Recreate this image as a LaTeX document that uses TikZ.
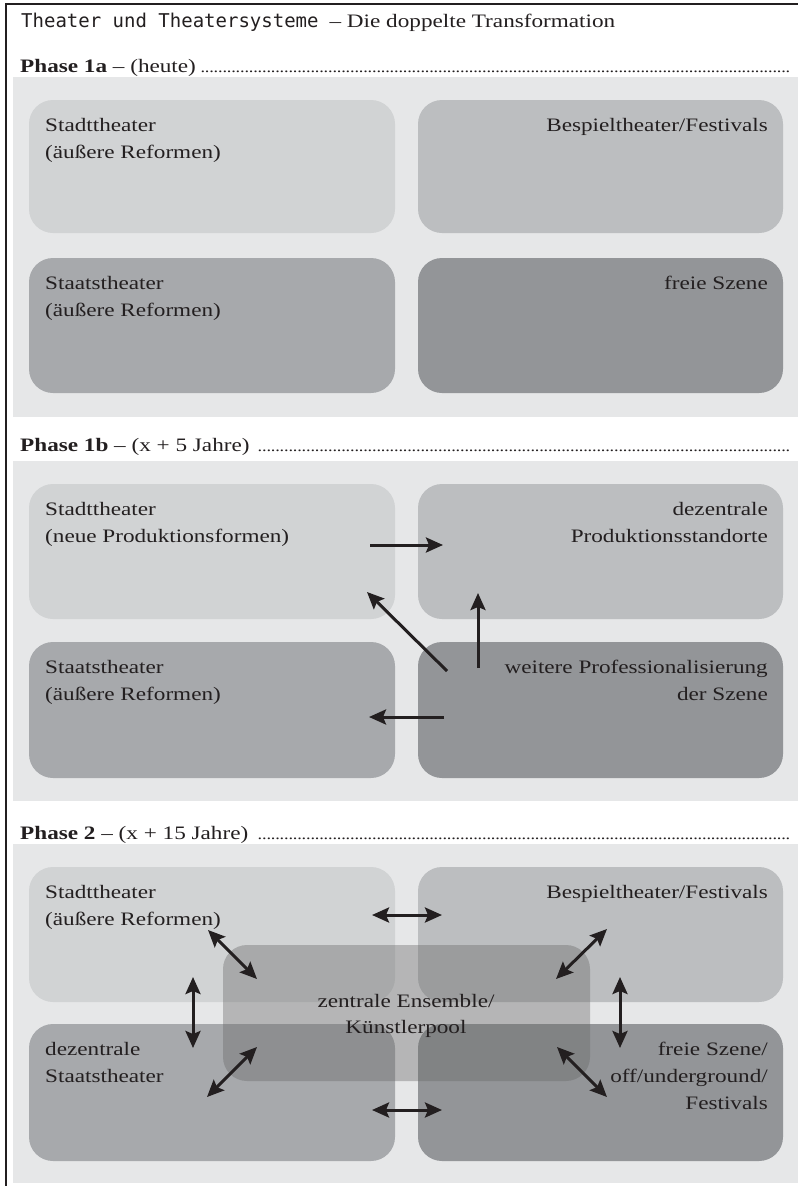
\documentclass[tikz,border=0pt]{standalone}
\usepackage{fontspec}
\setmainfont{Liberation Serif}
\newfontfamily\bodyfont{Liberation Serif}[FakeStretch=1.22]
\newfontfamily\monofont{DejaVu Sans Mono}
\usetikzlibrary{arrows.meta}
\definecolor{panelc}{HTML}{E6E7E8}
\definecolor{cA}{HTML}{D1D3D4}
\definecolor{cB}{HTML}{BCBEC0}
\definecolor{cC}{HTML}{A7A9AC}
\definecolor{cD}{HTML}{939598}
\definecolor{txt}{HTML}{231F20}
\newcommand\mydotrow{\leaders\hbox to 4.4pt{\hss{\fontsize{15}{15}\selectfont.}\hss}\hfill}
\tikzset{
  panel/.style={fill=panelc, draw=none, rectangle, inner sep=0pt, outer sep=0pt},
  boxn/.style={rounded corners=24pt, draw=none, rectangle, inner sep=0pt, outer sep=0pt},
  lt/.style={anchor=base west, inner sep=0pt, text=txt, font=\bodyfont\fontsize{19}{27}\selectfont},
  rt/.style={anchor=base east, inner sep=0pt, text=txt, font=\bodyfont\fontsize{19}{27}\selectfont},
  ct/.style={anchor=base, inner sep=0pt, text=txt, font=\bodyfont\fontsize{19}{27}\selectfont},
  head/.style={anchor=base west, inner sep=0pt, text=txt, font=\bodyfont\fontsize{19}{23}\selectfont},
  arr/.style={line width=3pt, draw=txt, -{Stealth[length=17pt,width=15pt,inset=3pt]}},
  darr/.style={line width=3pt, draw=txt, {Stealth[length=17pt,width=15pt,inset=3pt]}-{Stealth[length=17pt,width=15pt,inset=3pt]}},
}
\begin{document}
\begin{tikzpicture}[x=1pt,y=-1pt]
\useasboundingbox (0,0) rectangle (798,1186);
\fill[white] (0,0) rectangle (798,1186);
% frame
\draw[line width=1.6pt, txt] (6,1186) -- (6,4) -- (798,4);

% title
\node[anchor=base west, inner sep=0pt, text=txt] (title) at (21,27)
  {{\monofont\fontsize{19}{19}\selectfont Theater und Theatersysteme}\hspace{11pt}{\bodyfont\fontsize{19}{19}\selectfont – Die doppelte Transformation}};

% ---------- Phase 1a ----------
\node[head] (h1) at (20,72) {\makebox[770pt][l]{\textbf{Phase 1a} – (heute)\,\mydotrow}};
\node[panel, minimum width=785pt, minimum height=340pt] (p1) at (405.5,247) {};
\node[boxn, fill=cA, minimum width=366pt, minimum height=133pt] (a1) at (212,166.5) {};
\node[boxn, fill=cB, minimum width=365pt, minimum height=133pt] (b1) at (600.5,166.5) {};
\node[boxn, fill=cC, minimum width=366pt, minimum height=135pt] (c1) at (212,325.5) {};
\node[boxn, fill=cD, minimum width=365pt, minimum height=135pt] (d1) at (600.5,325.5) {};
\node[lt] (a1t1) at (45,131.5) {Stadttheater};
\node[lt] (a1t2) at (45,158.5) {(äußere Reformen)};
\node[rt] (b1t1) at (768,131.5) {Bespieltheater/Festivals};
\node[lt] (c1t1) at (45,289.5) {Staatstheater};
\node[lt] (c1t2) at (45,316.5) {(äußere Reformen)};
\node[rt] (d1t1) at (768,289.5) {freie Szene};

% ---------- Phase 1b ----------
\node[head] (h2) at (20,451) {\makebox[770pt][l]{\textbf{Phase 1b} – (x + 5 Jahre) \mydotrow}};
\node[panel, minimum width=785pt, minimum height=340pt] (p2) at (405.5,631) {};
\node[boxn, fill=cA, minimum width=366pt, minimum height=135pt] (a2) at (212,551.5) {};
\node[boxn, fill=cB, minimum width=365pt, minimum height=135pt] (b2) at (600.5,551.5) {};
\node[boxn, fill=cC, minimum width=366pt, minimum height=136pt] (c2) at (212,710) {};
\node[boxn, fill=cD, minimum width=365pt, minimum height=136pt] (d2) at (600.5,710) {};
\node[lt] (a2t1) at (45,515.5) {Stadttheater};
\node[lt] (a2t2) at (45,542.5) {(neue Produktionsformen)};
\node[rt] (b2t1) at (768,515.5) {dezentrale};
\node[rt] (b2t2) at (768,542.5) {Produktionsstandorte};
\node[lt] (c2t1) at (45,673.5) {Staatstheater};
\node[lt] (c2t2) at (45,700.5) {(äußere Reformen)};
\node[rt] (d2t1) at (768,673.5) {weitere Professionalisierung};
\node[rt] (d2t2) at (768,700.5) {der Szene};
\coordinate (r1s) at (370,545); \coordinate (r1e) at (443,545);
\coordinate (g1s) at (447,671); \coordinate (g1e) at (367,592);
\coordinate (u1s) at (478,668); \coordinate (u1e) at (478,593);
\coordinate (l1s) at (444,717); \coordinate (l1e) at (369,717);
\draw[arr] (r1s) -- (r1e);
\draw[arr] (g1s) -- (g1e);
\draw[arr] (u1s) -- (u1e);
\draw[arr] (l1s) -- (l1e);

% ---------- Phase 2 ----------
\node[head] (h3) at (20,839) {\makebox[770pt][l]{\textbf{Phase 2} – (x + 15 Jahre) \mydotrow}};
\node[panel, minimum width=785pt, minimum height=339pt] (p3) at (405.5,1013.5) {};
\node[boxn, fill=cA, minimum width=366pt, minimum height=135pt] (a3) at (212,934.5) {};
\node[boxn, fill=cB, minimum width=365pt, minimum height=135pt] (b3) at (600.5,934.5) {};
\node[boxn, fill=cC, minimum width=366pt, minimum height=137pt] (c3) at (212,1092.5) {};
\node[boxn, fill=cD, minimum width=365pt, minimum height=137pt] (d3) at (600.5,1092.5) {};
\node[boxn, fill=black!60, fill opacity=0.38, minimum width=367pt, minimum height=136pt] (z3) at (406.5,1013) {};
\node[lt] (a3t1) at (45,898.5) {Stadttheater};
\node[lt] (a3t2) at (45,925.5) {(äußere Reformen)};
\node[rt] (b3t1) at (768,898.5) {Bespieltheater/Festivals};
\node[lt] (c3t1) at (45,1055.5) {dezentrale};
\node[lt] (c3t2) at (45,1082.5) {Staatstheater};
\node[rt] (d3t1) at (768,1055.5) {freie Szene/};
\node[rt] (d3t2) at (768,1082.5) {off/underground/};
\node[rt] (d3t3) at (768,1109.5) {Festivals};
\node[ct] (z3t1) at (406,1007) {zentrale Ensemble/};
\node[ct] (z3t2) at (406,1033) {Künstlerpool};
\coordinate (ht1) at (372,915);  \coordinate (ht2) at (442,915);
\coordinate (hb1) at (372,1110); \coordinate (hb2) at (442,1110);
\coordinate (q1a) at (208,930);  \coordinate (q1b) at (257,979);
\coordinate (q2a) at (207,1097); \coordinate (q2b) at (257,1047);
\coordinate (q3a) at (607,929);  \coordinate (q3b) at (556,979);
\coordinate (q4a) at (607,1097); \coordinate (q4b) at (557,1047);
\coordinate (vl1) at (193,977);  \coordinate (vl2) at (193,1048);
\coordinate (vr1) at (620,977);  \coordinate (vr2) at (620,1048);
\draw[darr] (ht1) -- (ht2);
\draw[darr] (hb1) -- (hb2);
\draw[darr] (q1a) -- (q1b);
\draw[darr] (q2a) -- (q2b);
\draw[darr] (q3a) -- (q3b);
\draw[darr] (q4a) -- (q4b);
\draw[darr] (vl1) -- (vl2);
\draw[darr] (vr1) -- (vr2);
\end{tikzpicture}
\end{document}
